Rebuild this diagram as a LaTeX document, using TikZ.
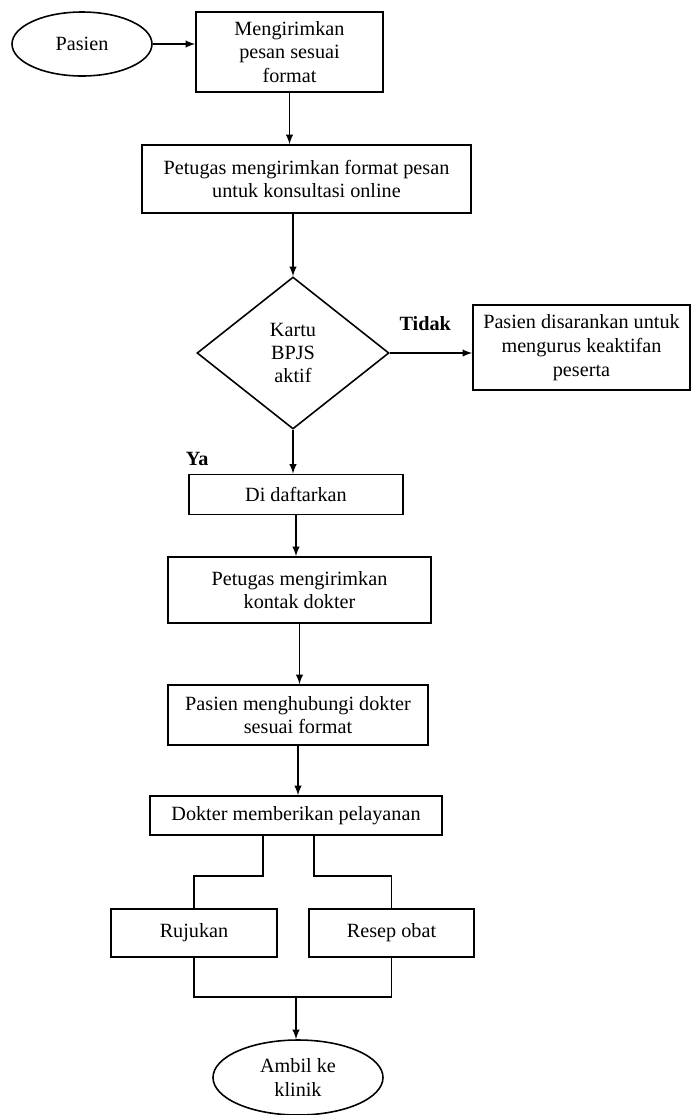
\documentclass[tikz,border=0pt]{standalone}
\usepackage{fontspec}
\setmainfont{Liberation Serif}
\usetikzlibrary{shapes.geometric,positioning}

\tikzstyle{block} = [rectangle, draw, fill=white, align=center,
    inner sep=2pt, font=\fontsize{11.5}{13.5}\selectfont]
\tikzstyle{terminal} = [ellipse, draw, fill=white, align=center,
    inner sep=0pt, font=\fontsize{11.5}{13.5}\selectfont]
\tikzstyle{decision} = [diamond, draw, fill=white, align=center,
    inner sep=0pt, font=\fontsize{11.5}{13}\selectfont]
\tikzstyle{description}=[color=black, font=\fontsize{11.5}{13.5}\selectfont\bfseries]
\tikzstyle{line} = [draw, -latex]

\begin{document}
\begin{tikzpicture}[line width=0.9pt]
\useasboundingbox (0,0) rectangle (13.84,-22.3);

\node (KirimPesan) [block, minimum width=3.74cm, minimum height=1.6cm] at (5.79,-1.04)
    {Mengirimkan\\pesan sesuai\\format};
\node (Pasien) [terminal, left of=KirimPesan, node distance=4.15cm, yshift=0.16cm,
    minimum width=2.8cm, minimum height=1.28cm]{Pasien};

\node (FormatPesan) [block, below of=KirimPesan, node distance=2.54cm, xshift=0.34cm,
    minimum width=6.58cm, minimum height=1.36cm]
    {Petugas mengirimkan format pesan\\untuk konsultasi online};

%Cek kartu
\node (CekBPJS) [decision, below of=FormatPesan, node distance=3.48cm, xshift=-0.27cm,
    minimum width=3.84cm, minimum height=3.04cm]{Kartu\\BPJS\\aktif};
\node (Saran) [block, right of=CekBPJS, node distance=5.77cm, yshift=0.11cm,
    minimum width=4.34cm, minimum height=1.7cm]
    {Pasien disarankan untuk\\mengurus keaktifan\\peserta};

%Ya
\node (Daftar) [block, below of=CekBPJS, node distance=2.83cm, xshift=0.06cm,
    minimum width=4.28cm, minimum height=0.8cm]{Di daftarkan};
\node (KontakDokter) [block, below of=Daftar, node distance=1.91cm, xshift=0.07cm,
    minimum width=5.26cm, minimum height=1.32cm]{Petugas mengirimkan\\kontak dokter};
\node (HubungiDokter) [block, below of=KontakDokter, node distance=2.5cm, xshift=-0.03cm,
    minimum width=5.2cm, minimum height=1.2cm]{Pasien menghubungi dokter\\sesuai format};
\node (Pelayanan) [block, below of=HubungiDokter, node distance=2.01cm, xshift=-0.04cm,
    minimum width=5.84cm, minimum height=0.78cm]{Dokter memberikan pelayanan};

%Hasil
\node (Rujukan) [block, below of=Pelayanan, node distance=2.35cm, xshift=-2.04cm,
    minimum width=3.32cm, minimum height=0.96cm]{Rujukan};
\node (ResepObat) [block, right of=Rujukan, node distance=3.95cm,
    minimum width=3.3cm, minimum height=0.96cm]{Resep obat};
\coordinate [below of=Pelayanan, node distance=3.63cm] (Gabung);
\node (AmbilKlinik) [terminal, below of=Pelayanan, node distance=5.24cm, xshift=0.04cm,
    minimum width=3.4cm, minimum height=1.5cm]{Ambil ke\\klinik};

\path [line](Pasien.east)--(Pasien.east -| KirimPesan.west);
\path [line](KirimPesan.south)--(KirimPesan.south |- FormatPesan.north);
\path [line](FormatPesan.south -| CekBPJS)--(CekBPJS.north);
\path [line](CekBPJS.east)--node[description, pos=0.43, above=0.32cm]{Tidak}(CekBPJS.east -| Saran.west);
\path [line](CekBPJS.south)--node[description, pos=0.66, left=1.56cm]{Ya}(CekBPJS.south |- Daftar.north);
\path [line](Daftar.south)--(Daftar.south |- KontakDokter.north);
\path [line](KontakDokter.south)--(KontakDokter.south |- HubungiDokter.north);
\path [line](HubungiDokter.south)--(HubungiDokter.south |- Pelayanan.north);

\draw ([xshift=-0.66cm]Pelayanan.south)--++(0,-0.8)-|(Rujukan.north);
\draw ([xshift=0.36cm]Pelayanan.south)--++(0,-0.8)-|(ResepObat.north);
\draw (Rujukan.south)|-(Gabung)-|(ResepObat.south);
\path [line](Gabung)--(Gabung |- AmbilKlinik.north);

\end{tikzpicture}
\end{document}
